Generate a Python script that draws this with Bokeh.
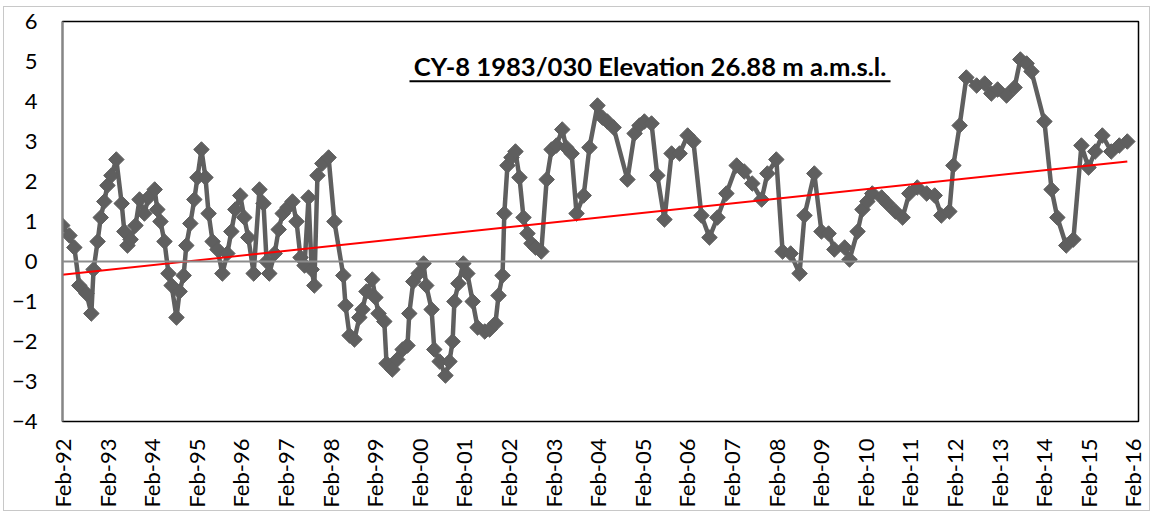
import numpy as np
import pandas as pd
from math import pi
from bokeh.plotting import figure
from bokeh.models import (Range1d, FixedTicker, DatetimeTickFormatter, Span,
                          Label, BoxAnnotation, ColumnDataSource)
from bokeh.embed import file_html
from bokeh.resources import INLINE

# Reading dates (decimal years) and groundwater level values (m)
years = [
    1992.08, 1992.24, 1992.35, 1992.46, 1992.62, 1992.73, 1992.78, 1992.87, 1992.94,
    1993.02, 1993.09, 1993.18, 1993.29, 1993.41, 1993.47, 1993.54, 1993.61, 1993.72,
    1993.81, 1993.92, 1994.01, 1994.15, 1994.21, 1994.28, 1994.37, 1994.46, 1994.53,
    1994.64, 1994.71, 1994.80, 1994.86, 1994.95, 1995.04, 1995.11, 1995.20, 1995.29,
    1995.36, 1995.45, 1995.56, 1995.67, 1995.78, 1995.87, 1995.96, 1996.07, 1996.16,
    1996.25, 1996.37, 1996.50, 1996.59, 1996.66, 1996.72, 1996.84, 1996.93, 1997.02,
    1997.13, 1997.24, 1997.33, 1997.42, 1997.51, 1997.60, 1997.67, 1997.73, 1997.80,
    1997.91, 1998.05, 1998.18, 1998.38, 1998.43, 1998.52, 1998.63, 1998.74, 1998.81,
    1998.90, 1999.03, 1999.10, 1999.17, 1999.30, 1999.35, 1999.48, 1999.59, 1999.71,
    1999.82, 1999.86, 1999.95, 2000.07, 2000.18, 2000.24, 2000.36, 2000.42, 2000.54,
    2000.67, 2000.76, 2000.83, 2000.87, 2000.96, 2001.07, 2001.16, 2001.28, 2001.39,
    2001.55, 2001.66, 2001.79, 2001.86, 2001.95, 2001.99, 2002.06, 2002.15, 2002.24,
    2002.33, 2002.42, 2002.51, 2002.60, 2002.69, 2002.82, 2002.94, 2003.05, 2003.16,
    2003.29, 2003.38, 2003.50, 2003.61, 2003.77, 2003.90, 2004.08, 2004.19, 2004.30,
    2004.44, 2004.75, 2004.91, 2005.02, 2005.13, 2005.29, 2005.42, 2005.58, 2005.74,
    2005.92, 2006.10, 2006.23, 2006.41, 2006.59, 2006.77, 2006.97, 2007.20, 2007.37,
    2007.55, 2007.76, 2007.89, 2008.09, 2008.23, 2008.41, 2008.61, 2008.72, 2008.94,
    2009.10, 2009.26, 2009.39, 2009.62, 2009.73, 2009.91, 2010.02, 2010.13, 2010.24,
    2010.45, 2010.58, 2010.76, 2010.92, 2011.07, 2011.25, 2011.46, 2011.64, 2011.79,
    2011.97, 2012.06, 2012.20, 2012.35, 2012.58, 2012.76, 2012.91, 2013.05, 2013.25,
    2013.43, 2013.56, 2013.70, 2013.81, 2014.10, 2014.26, 2014.39, 2014.59, 2014.75,
    2014.93, 2015.09, 2015.24, 2015.40, 2015.60, 2015.78, 2015.96,
]
levels = [
    0.9, 0.65, 0.35, -0.6, -0.8, -1.3, -0.2, 0.5, 1.1,
    1.5, 1.9, 2.15, 2.55, 1.45, 0.75, 0.4, 0.55, 0.9,
    1.55, 1.2, 1.6, 1.8, 1.3, 1.0, 0.5, -0.3, -0.6,
    -1.4, -0.75, -0.35, 0.4, 0.95, 1.55, 2.1, 2.8, 2.1,
    1.2, 0.5, 0.3, -0.3, 0.2, 0.75, 1.3, 1.65, 1.1,
    0.6, -0.3, 1.8, 1.45, 0.0, -0.3, 0.2, 0.8, 1.2,
    1.35, 1.5, 1.0, 0.1, -0.1, 1.6, -0.2, -0.6, 2.15,
    2.45, 2.6, 1.0, -0.35, -1.1, -1.85, -1.95, -1.4, -1.2,
    -0.75, -0.45, -0.9, -1.3, -1.5, -2.55, -2.7, -2.45, -2.2,
    -2.1, -1.3, -0.5, -0.3, -0.05, -0.6, -1.2, -2.2, -2.5,
    -2.85, -2.5, -2.0, -1.0, -0.55, -0.05, -0.3, -1.0, -1.65,
    -1.75, -1.7, -1.55, -0.85, -0.35, 1.2, 2.4, 2.6, 2.75,
    2.1, 1.1, 0.7, 0.45, 0.35, 0.25, 2.05, 2.8, 2.9,
    3.3, 2.85, 2.7, 1.2, 1.65, 2.85, 3.9, 3.6, 3.5,
    3.35, 2.05, 3.2, 3.4, 3.5, 3.45, 2.15, 1.05, 2.7,
    2.7, 3.15, 3.0, 1.15, 0.6, 1.1, 1.7, 2.4, 2.25,
    1.95, 1.55, 2.2, 2.55, 0.25, 0.2, -0.3, 1.15, 2.2,
    0.75, 0.7, 0.3, 0.35, 0.05, 0.75, 1.3, 1.5, 1.7,
    1.6, 1.45, 1.25, 1.1, 1.7, 1.85, 1.7, 1.65, 1.15,
    1.25, 2.4, 3.4, 4.6, 4.4, 4.45, 4.2, 4.3, 4.15,
    4.35, 5.05, 4.95, 4.75, 3.5, 1.8, 1.1, 0.4, 0.55,
    2.9, 2.35, 2.75, 3.15, 2.75, 2.9, 3.0,
]

# linear trend line, end values
trend_levels = [-0.33, 2.5]

tick_years = list(range(1992, 2017))
y_ticks = list(range(-4, 7))
title_text = "CY-8 1983/030 Elevation 26.88 m a.m.s.l."


def to_ms(yr):
    y = int(np.floor(yr))
    start = pd.Timestamp(year=y, month=1, day=1)
    end = pd.Timestamp(year=y + 1, month=1, day=1)
    return (start + (end - start) * (yr - y)).value / 1e6


src = ColumnDataSource(data=dict(x=[to_ms(v) for v in years], y=levels))
trend_src = ColumnDataSource(data=dict(
    x=[to_ms(years[0]), to_ms(years[-1])], y=trend_levels))

x_start = pd.Timestamp("1992-02-01").value / 1e6
x_end = pd.Timestamp("2016-03-18").value / 1e6

p = figure(width=1147, height=505, x_axis_type="datetime",
           output_backend="svg", toolbar_location=None,
           x_range=Range1d(x_start, x_end), y_range=Range1d(-4, 6),
           min_border_left=58, min_border_right=13,
           min_border_top=14, min_border_bottom=91)
p.styles = {"border": "1px solid #c8c8c8", "margin-left": "3px", "margin-top": "6px"}

p.xgrid.grid_line_color = None
p.ygrid.grid_line_color = None
p.outline_line_color = "black"
p.outline_line_width = 1.5

FONT = "Lato"

xa = p.xaxis[0]
xa.ticker = FixedTicker(ticks=[pd.Timestamp(f"{y}-02-01").value / 1e6 for y in tick_years])
xa.formatter = DatetimeTickFormatter(days="%b-%y", months="%b-%y", years="%b-%y")
xa.major_label_orientation = pi / 2
xa.major_label_text_font = FONT
xa.major_label_text_font_size = "22px"
xa.major_label_text_color = "black"
xa.major_tick_out = 0
xa.major_tick_in = 0
xa.minor_tick_out = 0
xa.minor_tick_in = 0
xa.axis_line_color = None
xa.major_label_standoff = 17

ya = p.yaxis[0]
ya.ticker = FixedTicker(ticks=y_ticks)
ya.major_label_text_font = FONT
ya.major_label_text_font_size = "22px"
ya.major_label_text_color = "black"
ya.major_tick_out = 0
ya.major_tick_in = 0
ya.minor_tick_out = 0
ya.minor_tick_in = 0
ya.axis_line_color = "#868686"
ya.axis_line_width = 2
ya.major_label_standoff = 25

p.add_layout(Span(location=0, dimension="width", line_color="#8c8c8c", line_width=2))

series_color = "#5f5f5f"
p.line("x", "y", source=src, line_color=series_color, line_width=4.5)
p.scatter("x", "y", source=src, marker="square", angle=pi / 4, size=11,
          fill_color=series_color, line_color=series_color)

p.line("x", "y", source=trend_src, line_color="#ff0000", line_width=2)

p.add_layout(Label(x=to_ms(2005.256), y=4.88, text=title_text,
                   text_align="center", text_baseline="alphabetic",
                   text_font=FONT, text_font_style="bold",
                   text_font_size="25.6px", text_color="black"))
p.add_layout(BoxAnnotation(left=to_ms(1999.865), right=to_ms(2010.65),
                           bottom=4.48, top=4.53, fill_color="black",
                           fill_alpha=1, line_color=None))

open("out.html", "w").write(file_html(p, INLINE))
